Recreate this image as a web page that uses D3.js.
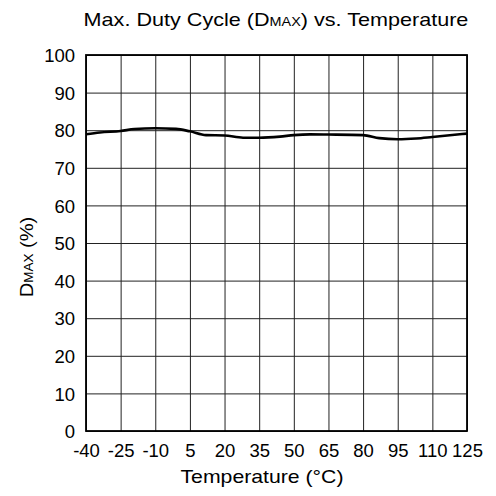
<!DOCTYPE html>
<html>
<head>
<meta charset="utf-8">
<script src="https://cdn.jsdelivr.net/npm/d3@7"></script>
<style>
  html, body { margin: 0; padding: 0; background: #fff; }
  svg text { font-family: "Liberation Sans", Arial, sans-serif; fill: #000; }
</style>
</head>
<body>
<div id="chart"></div>
<script>
// ── Data ───────────────────────────────────────────────────────────────────
var temps = [-40, -34, -25, -19, -10, -1, 5, 12, 20, 28, 35, 44, 50, 57, 65, 80, 87, 95, 103, 110, 125];
var dmax  = [78.9, 79.4, 79.8, 80.3, 80.5, 80.35, 79.7, 78.7, 78.6, 78.0, 78.0, 78.3, 78.7, 78.9, 78.85, 78.7, 77.9, 77.6, 77.8, 78.2, 79.1];

var xTicks = [-40, -25, -10, 5, 20, 35, 50, 65, 80, 95, 110, 125];
var yTicks = [0, 10, 20, 30, 40, 50, 60, 70, 80, 90, 100];

// ── Layout ────────────────────────────────────────────────────────────────
var W = 496, H = 496;
var margin = { top: 55, right: 29, bottom: 65, left: 86 };
var iw = W - margin.left - margin.right;
var ih = H - margin.top - margin.bottom;

var svg = d3.select('#chart').append('svg')
  .attr('width', W)
  .attr('height', H);

var g = svg.append('g').attr('transform', 'translate(' + margin.left + ',' + margin.top + ')');

var x = d3.scaleLinear().domain([-40, 125]).range([0, iw]);
var y = d3.scaleLinear().domain([0, 100]).range([ih, 0]);

// plain hyphen minus, like the source
function fmt(d) { return String(d); }

// grid + tick labels via axes
var xAxis = g.append('g')
  .attr('transform', 'translate(0,' + ih + ')')
  .call(d3.axisBottom(x).tickValues(xTicks).tickSize(-ih).tickPadding(13).tickFormat(fmt));

var yAxis = g.append('g')
  .call(d3.axisLeft(y).tickValues(yTicks).tickSize(-iw).tickPadding(11).tickFormat(fmt));

[xAxis, yAxis].forEach(function(a) {
  a.select('.domain').remove();
  a.selectAll('line').attr('stroke', '#222').attr('stroke-width', 1);
  a.selectAll('text').attr('font-size', 18.5).attr('fill', '#000');
});
yAxis.selectAll('text').attr('dy', '0.36em');

// frame
g.append('rect')
  .attr('width', iw)
  .attr('height', ih)
  .attr('fill', 'none')
  .attr('stroke', '#000')
  .attr('stroke-width', 1.8);

// curve
var line = d3.line()
  .x(function(d, i) { return x(temps[i]); })
  .y(function(d) { return y(d); })
  .curve(d3.curveMonotoneX);

g.append('path')
  .datum(dmax)
  .attr('d', line)
  .attr('fill', 'none')
  .attr('stroke', '#000')
  .attr('stroke-width', 2.6);

// title (source text is drawn a bit wide)
var title = svg.append('text')
  .attr('transform', 'translate(276,26) scale(1.2,1)')
  .attr('text-anchor', 'middle')
  .attr('font-size', 18);
title.append('tspan').text('Max. Duty Cycle (D');
title.append('tspan').attr('font-size', 12).text('MAX');
title.append('tspan').text(') vs. Temperature');

// x axis title
svg.append('text')
  .attr('transform', 'translate(262,483) scale(1.18,1)')
  .attr('text-anchor', 'middle')
  .attr('font-size', 18)
  .text('Temperature (°C)');

// y axis title
var yt = svg.append('text')
  .attr('transform', 'translate(33,257) rotate(-90) scale(1.12,1)')
  .attr('text-anchor', 'middle')
  .attr('font-size', 18);
yt.append('tspan').text('D');
yt.append('tspan').attr('font-size', 12).text('MAX');
yt.append('tspan').text(' (%)');
</script>
</body>
</html>
